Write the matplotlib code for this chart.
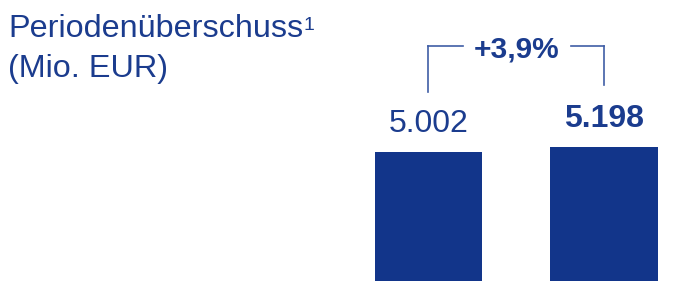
import matplotlib.pyplot as plt

plt.rcParams['font.family'] = ['Liberation Sans', 'DejaVu Sans']

years = ['2022', '2023']
values = [5002, 5198]
labels = ['5.002', '5.198']
change = '+3,9%'

bar_color = '#12358A'
text_color = '#1B3C8E'
line_color = '#3F5EA6'

fig = plt.figure(figsize=(6.89, 2.81), dpi=100)
ax = fig.add_axes([0, 0, 1, 1])

x = range(len(values))
ax.bar(x, values, width=0.61, color=bar_color)
ax.set_xlim(-2.44, 1.484)
ax.set_ylim(0, 10870)
ax.axis('off')

# value labels
for i, (v, lab) in enumerate(zip(values, labels)):
    ax.annotate(lab, (i, v), xytext=(0, 20), textcoords='offset pixels',
                ha='center', va='baseline', fontsize=23, color=text_color,
                fontweight='bold' if i == 1 else 'normal')

# bracket with growth rate
top = 9100
ax.plot([0, 0], [values[0] + 2300, top], color=line_color, lw=1.2)
ax.plot([1, 1], [values[1] + 2400, top], color=line_color, lw=1.2)
ax.plot([0, 0.196], [top, top], color=line_color, lw=1.2)
ax.plot([0.81, 1], [top, top], color=line_color, lw=1.2)
ax.text(0.503, top - 450, change, ha='center', va='baseline', fontsize=21.5,
        fontweight='bold', color=text_color)

# title
t = fig.text(8 / 689, 1 - 37 / 281, 'Periodenüberschuss', fontsize=23.3,
             color=text_color, va='baseline', ha='left')
ax.annotate('1', xy=(1, 1), xycoords=t, xytext=(0, -3),
            textcoords='offset pixels', fontsize=14, color=text_color,
            va='top', ha='left')
fig.text(8 / 689, 1 - 77 / 281, '(Mio. EUR)', fontsize=23.3,
         color=text_color, va='baseline', ha='left')

plt.savefig('out.png', dpi=100)
